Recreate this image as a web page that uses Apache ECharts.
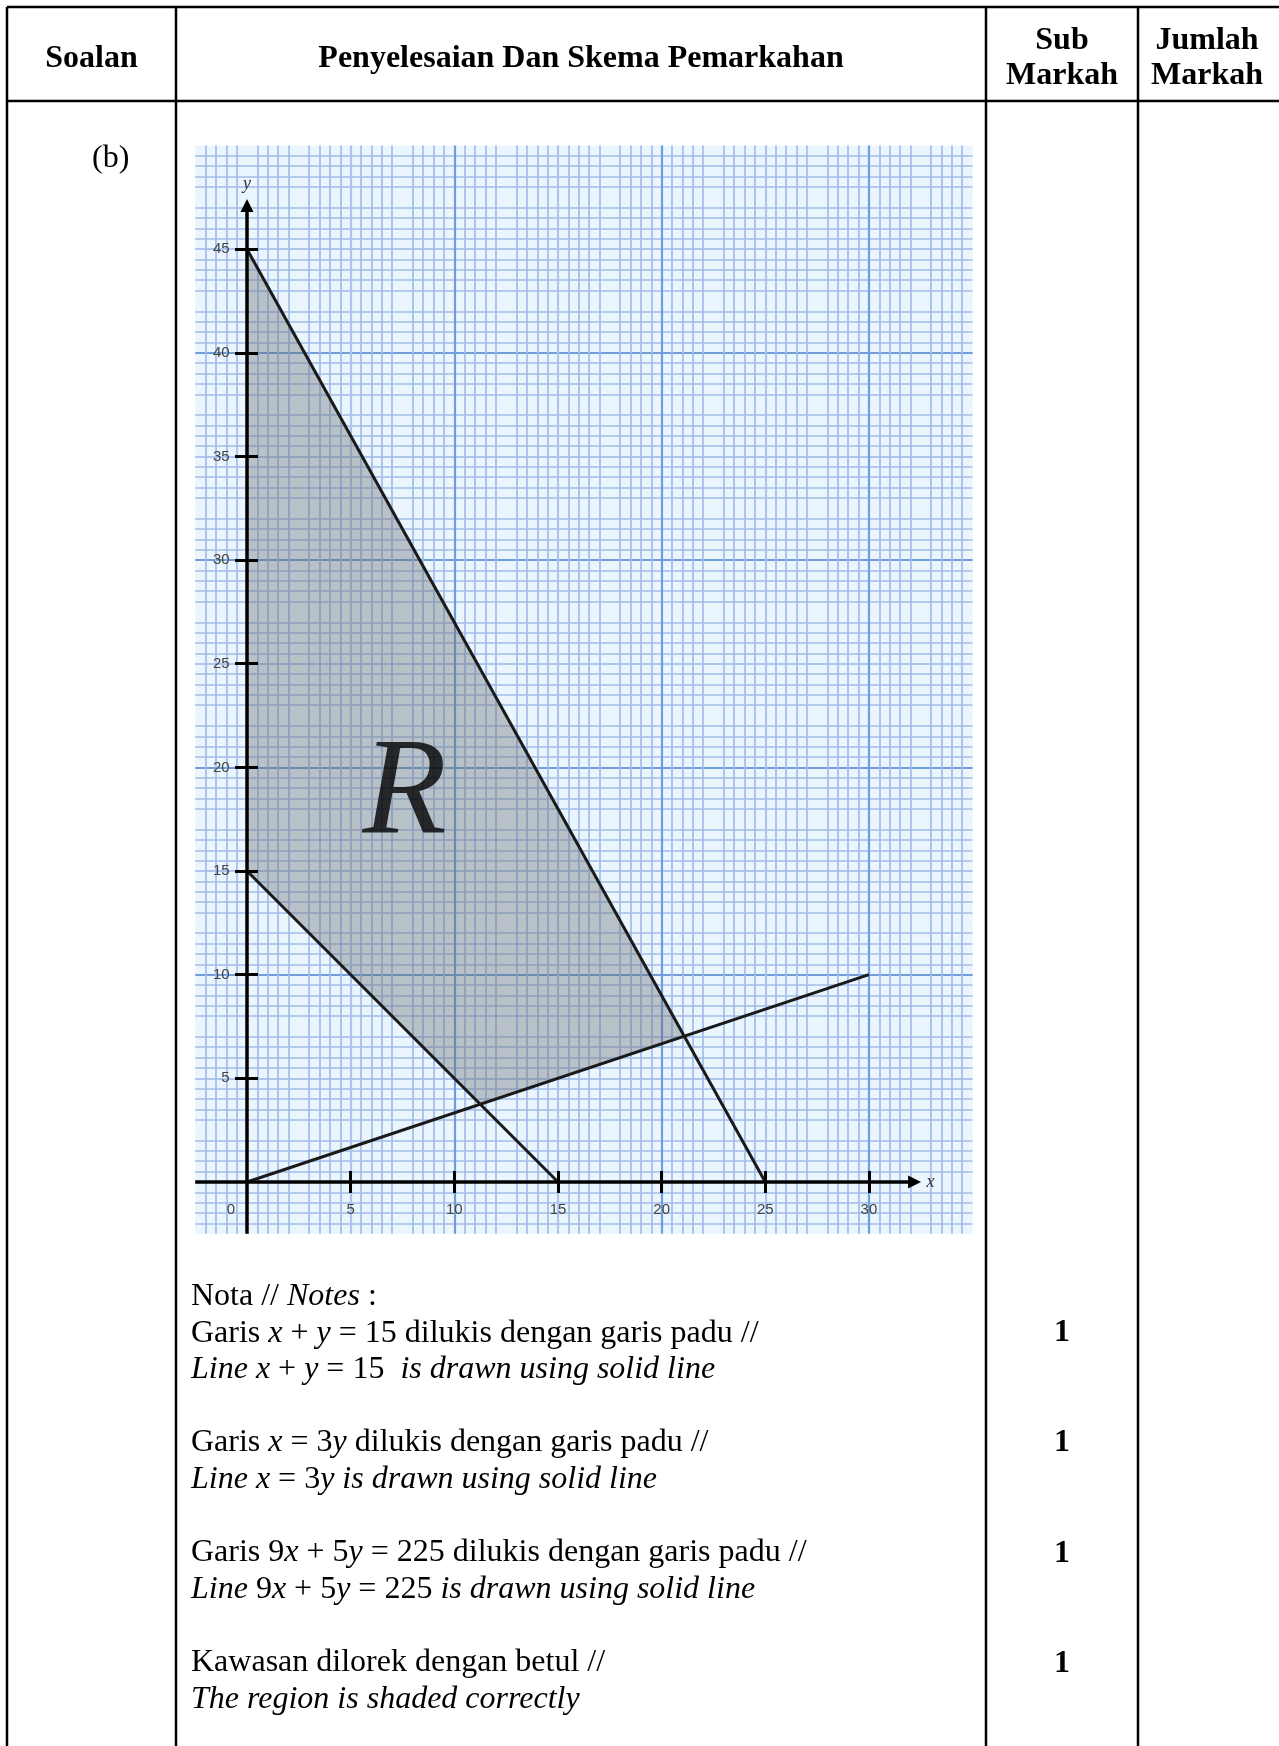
<!DOCTYPE html>
<html>
<head>
<meta charset="utf-8">
<title>Soalan (b)</title>
<script src="https://cdn.jsdelivr.net/npm/echarts@6.0.0/dist/echarts.min.js"></script>
<style>
  html, body { margin: 0; padding: 0; background: #fff; }
  #main { width: 1279px; height: 1746px; }
</style>
</head>
<body>
<div id="main"></div>
<script>
// ticks and labels on the graph paper
const xTicks = [5, 10, 15, 20, 25, 30];
const xLabels = [0, 5, 10, 15, 20, 25, 30];
const yTicks = [5, 10, 15, 20, 25, 30, 35, 40, 45];

// the three lines, end points
const lineSum = [[0, 15], [15, 0]];    // x + y = 15
const lineRatio = [[0, 0], [30, 10]];  // x = 3y
const lineCost = [[0, 45], [25, 0]];   // 9x + 5y = 225

// corners of the shaded region R, and where the letter sits
const regionX = [0, 0, 21.1, 11.25];
const regionY = [15, 45, 7.0, 3.75];
const labelR = [7.6, 18.6];

// drawn axes (with arrow heads)
const xAxisLine = [[-2.5, 0], [32.2, 0]];
const yAxisLine = [[0, -2.5], [0, 47.1]];

// table text
const headText = ['Soalan', 'Penyelesaian Dan Skema Pemarkahan', 'Sub', 'Markah', 'Jumlah', 'Markah'];
const headX = [91.5, 581, 1062, 1062, 1207, 1207];
const headBase = [70, 70, 52, 87, 52, 87];

const noteLines = [
  [['n', 'Nota // '], ['i', 'Notes'], ['n', ' :']],
  [['n', 'Garis '], ['i', 'x'], ['n', ' + '], ['i', 'y'], ['n', ' = 15 dilukis dengan garis padu //']],
  [['i', 'Line x'], ['n', ' + '], ['i', 'y'], ['n', ' = 15'], ['i', '  is drawn using solid line']],
  [['n', 'Garis '], ['i', 'x'], ['n', ' = 3'], ['i', 'y'], ['n', ' dilukis dengan garis padu //']],
  [['i', 'Line x'], ['n', ' = 3'], ['i', 'y is drawn using solid line']],
  [['n', 'Garis 9'], ['i', 'x'], ['n', ' + 5'], ['i', 'y'], ['n', ' = 225 dilukis dengan garis padu //']],
  [['i', 'Line '], ['n', '9'], ['i', 'x'], ['n', ' + 5'], ['i', 'y'], ['n', ' = 225'], ['i', ' is drawn using solid line']],
  [['n', 'Kawasan dilorek dengan betul //']],
  [['i', 'The region is shaded correctly']]
];
const noteBase = [1307, 1344, 1380, 1453, 1490, 1563, 1600, 1673, 1710];
const marks = ['1', '1', '1', '1'];
const markBase = [1344, 1454, 1565, 1675];

const SERIF = "'Liberation Serif', 'Times New Roman', serif";
const FS = 32;
const MID = 0.3375 * FS; // canvas "middle" sits this far above the baseline
const PAPER = '#eaf5fd';
const MINOR = '#a3bce9';
const MINOR_MID = '#adc4ec';
const MAJOR = '#6f9edb';

function richStyle(style, weight) {
  return { fontFamily: SERIF, fontSize: FS, fontStyle: style, fontWeight: weight, color: '#000' };
}
const rich = {
  n: richStyle('normal', 'normal'),
  i: richStyle('italic', 'normal'),
  b: richStyle('normal', 'bold')
};

function textBlock(text, x, base, align) {
  return {
    text: text, left: x, top: base - MID, padding: 0,
    textAlign: align, textVerticalAlign: 'middle',
    textStyle: { fontFamily: SERIF, fontSize: FS, fontWeight: 'normal', color: '#000', rich: rich }
  };
}

const titles = [];
headText.forEach(function (t, i) {
  titles.push(textBlock('{b|' + t + '}', headX[i], headBase[i], 'center'));
});
titles.push(textBlock('{n|(b)}', 92, 169, 'left'));
noteLines.forEach(function (parts, i) {
  const s = parts.map(function (p) { return '{' + p[0] + '|' + p[1] + '}'; }).join('');
  titles.push(textBlock(s, 191, noteBase[i], 'left'));
});
marks.forEach(function (m, i) {
  titles.push(textBlock('{b|' + m + '}', 1062, markBase[i], 'center'));
});

// table rules
function rule(x1, y1, x2, y2) {
  return { type: 'line', silent: true, z: 100, shape: { x1: x1, y1: y1, x2: x2, y2: y2 },
    style: { stroke: '#000', lineWidth: 2.5 } };
}
const rules = [
  rule(7, 7, 1279, 7),
  rule(7, 101, 1279, 101),
  rule(7, 7, 7, 1746),
  rule(176, 7, 176, 1746),
  rule(986, 7, 986, 1746),
  rule(1138, 7, 1138, 1746)
];

const tickFont = { color: '#444', fontSize: 15, fontFamily: "'Liberation Sans', Arial, sans-serif" };

function paperAxis(min, max, extra) {
  return Object.assign({
    type: 'value', gridIndex: 0, min: min, max: max, interval: 2.5,
    axisLine: { show: true, onZero: true, onZeroAxisIndex: 0, lineStyle: { opacity: 0 } },
    splitLine: { show: false },
    minorTick: { show: false, splitNumber: 5 },
    minorSplitLine: { show: false },
    axisLabel: { show: false }
  }, extra);
}

const chart = echarts.init(document.getElementById('main'));
const option = {
  animation: false,
  backgroundColor: '#fff',
  title: titles,
  graphic: rules,
  grid: {
    left: 195.2, top: 145.5, right: 306.4, bottom: 512.2,
    show: true, backgroundColor: PAPER, borderWidth: 0,
    outerBoundsMode: 'none'
  },
  xAxis: [
    paperAxis(-2.5, 35, {
      position: 'bottom',
      axisTick: { show: true, customValues: xTicks, length: 11, lineStyle: { color: '#000', width: 3 } },
      // labels hang from the grid edge, so pull them up to the x axis
      axisLabel: Object.assign({
        show: true, customValues: xLabels, margin: -31,
        formatter: function (v) { return v === 0 ? '{z|0}' : String(v); },
        rich: { z: Object.assign({ padding: [0, 32, 0, 0] }, tickFont) }
      }, tickFont),
      splitLine: { show: true, lineStyle: { color: [MINOR_MID, MAJOR], width: 2.2 } },
      minorSplitLine: { show: true, lineStyle: { color: MINOR, width: 1.7 } }
    }),
    paperAxis(-2.5, 35, {
      position: 'top', z: 10,
      axisTick: { show: true, customValues: xTicks, length: 11, lineStyle: { color: '#000', width: 3 } }
    })
  ],
  yAxis: [
    paperAxis(-2.5, 50, {
      position: 'left',
      axisTick: { show: true, customValues: yTicks, length: 12, lineStyle: { color: '#000', width: 3 } },
      axisLabel: Object.assign({ show: true, customValues: yTicks, margin: -34.5 }, tickFont),
      splitLine: { show: true, lineStyle: { color: [MINOR_MID, MAJOR], width: 2.2 } },
      minorSplitLine: { show: true, lineStyle: { color: MINOR, width: 1.7 } }
    }),
    paperAxis(-2.5, 50, {
      position: 'right', z: 10,
      axisTick: { show: true, customValues: yTicks, length: 11, lineStyle: { color: '#000', width: 3 } }
    })
  ],
  series: [
    {
      name: 'R', type: 'custom', xAxisIndex: 0, yAxisIndex: 0, silent: true,
      data: [[regionX[0], regionY[0]]],
      renderItem: function (params, api) {
        const pts = regionX.map(function (x, i) { return api.coord([x, regionY[i]]); });
        return { type: 'polygon', shape: { points: pts }, style: { fill: 'rgba(105,108,112,0.38)' } };
      }
    },
    {
      type: 'scatter', silent: true, symbolSize: 1,
      itemStyle: { color: 'rgba(0,0,0,0)' },
      label: {
        show: true, position: 'inside', formatter: 'R',
        fontFamily: SERIF, fontStyle: 'italic', fontSize: 138, color: '#000'
      },
      data: [labelR]
    },
    { type: 'line', data: lineSum, showSymbol: false, silent: true, lineStyle: { color: '#1a1a1a', width: 3 } },
    { type: 'line', data: lineRatio, showSymbol: false, silent: true, lineStyle: { color: '#1a1a1a', width: 3 } },
    { type: 'line', data: lineCost, showSymbol: false, silent: true, lineStyle: { color: '#1a1a1a', width: 3 } },
    {
      type: 'line', data: [], silent: true,
      markLine: {
        silent: true, animation: false,
        symbol: ['none', 'triangle'], symbolSize: 13,
        lineStyle: { color: '#000', width: 3.5, type: 'solid' },
        label: {
          show: true, position: 'end', formatter: '{b}', distance: 12,
          color: '#333', fontFamily: SERIF, fontStyle: 'italic', fontSize: 18
        },
        emphasis: { disabled: true },
        data: [
          [{ name: 'x', coord: xAxisLine[0] }, { coord: xAxisLine[1] }],
          [{ name: 'y', coord: yAxisLine[0] }, { coord: yAxisLine[1] }]
        ]
      }
    }
  ]
};
chart.setOption(option);
</script>
</body>
</html>
